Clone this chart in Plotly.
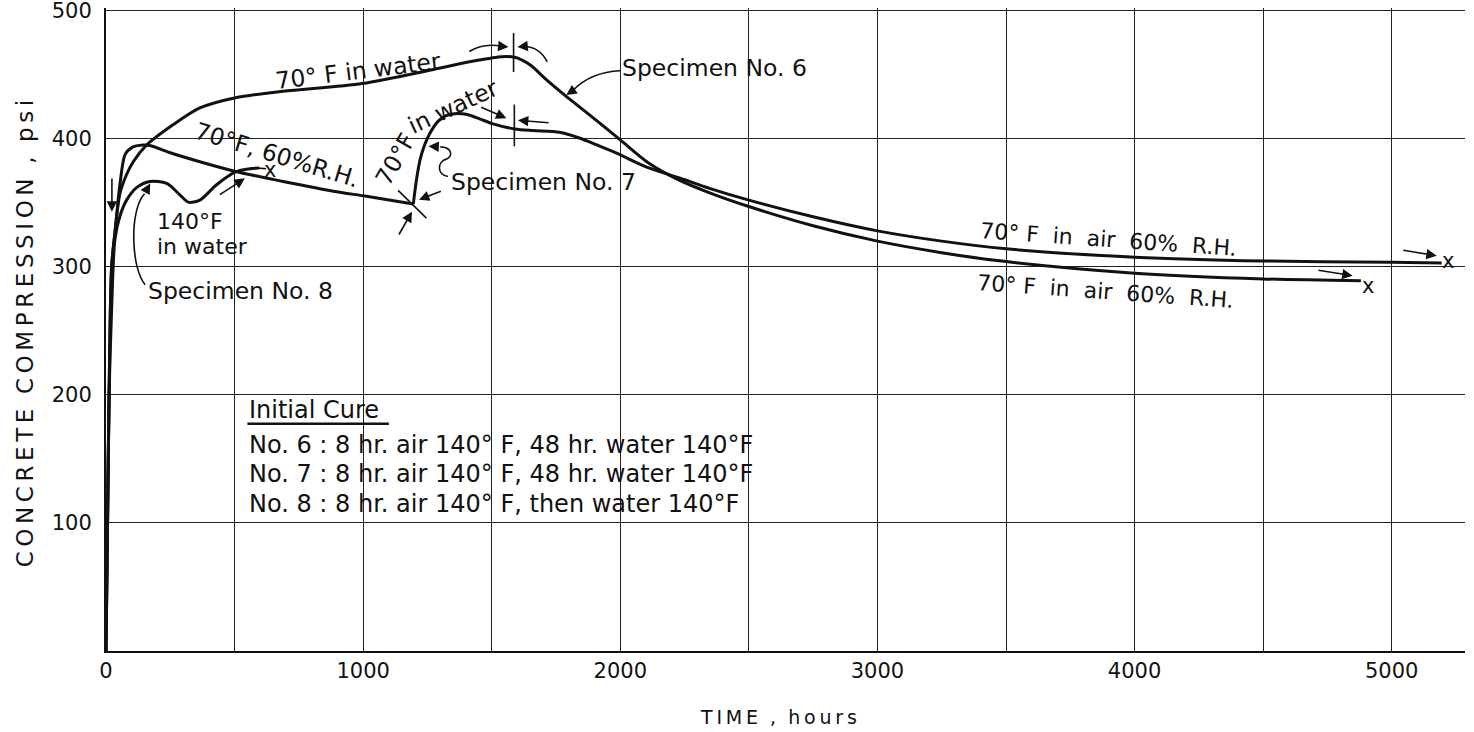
import plotly.graph_objects as go

# ---------------- data (time in hours, concrete compression in psi) ----------------
# Specimen No. 6 : 140F water, then 70F in water, then 70F in air 60% R.H.
t6 = [0, 6, 12, 22, 35, 54, 80, 106, 158, 262, 365, 504, 689, 997, 1273, 1440, 1540,
      1590, 1650, 1710, 1784, 1890, 2000, 2110, 2225, 2350, 2500, 2750, 3000, 3250,
      3500, 4000, 4500, 4880]
p6 = [0, 100, 200, 300, 327, 357, 372, 382, 395, 411, 424, 432, 437, 443, 454, 461, 464,
      463.5, 457.5, 446.5, 434, 417, 399, 381, 368, 357.5, 347, 332, 320, 311,
      304, 295, 290.5, 289]

# Specimen No. 7 : 140F water, then 70F 60% R.H.
t7a = [0, 6, 12, 22, 35, 54, 74, 100, 145, 171, 250, 365, 504, 689, 884, 1013, 1195]
p7a = [0, 100, 200, 301, 327, 364, 387.5, 393, 395, 394.6, 389, 382, 374.4, 366.6, 359, 355, 349]
# Specimen No. 7 : then 70F in water, then 70F in air 60% R.H.
t7b = [1195, 1209, 1222, 1239, 1259, 1291, 1323, 1356, 1401, 1453, 1505, 1589, 1660,
       1764, 1841, 1906, 1990, 2100, 2230, 2350, 2500, 2750, 3000, 3250, 3500, 4000,
       4500, 5000, 5194]
p7b = [349, 370, 384, 395, 404, 413.5, 418, 419.5, 419, 415.5, 411.5, 407.6, 406.3,
       405, 400.5, 395.3, 388.3, 378, 369.3, 361, 352, 339, 328, 320, 314, 307.5,
       304.5, 303.5, 303]

# Specimen No. 8 : 140F in water
t8 = [0, 6, 12, 22, 35, 55, 80, 120, 171, 236, 288, 320, 365, 430, 504, 560, 595]
p8 = [0, 100, 200, 268, 322, 340, 352, 362, 366.6, 365, 356, 350.4, 352, 364, 374, 376.5, 377]

x_ticks = [0, 500, 1000, 1500, 2000, 2500, 3000, 3500, 4000, 4500, 5000]
x_labels = ["0", "", "1000", "", "2000", "", "3000", "", "4000", "", "5000"]
y_ticks = [0, 100, 200, 300, 400, 500]
y_labels = ["", "100", "200", "300", "400", "500"]

legend_title = "Initial Cure"
legend_lines = [
    "No. 6 : 8 hr. air 140° F, 48 hr. water 140°F",
    "No. 7 : 8 hr. air 140° F, 48 hr. water 140°F",
    "No. 8 : 8 hr. air 140° F, then water 140°F",
]

FONT = "DejaVu Sans"
INK = "#111111"
TS = 23.5


def spaced(s):
    """wide drafting-style lettering: thin spaces between letters, wide word gaps"""
    return "  ".join("\u2009".join(w) for w in s.split(" "))


fig = go.Figure()
for tx, py in [(t6, p6), (t7a, p7a), (t7b, p7b), (t8, p8)]:
    fig.add_trace(go.Scatter(x=tx, y=py, mode="lines",
                             line=dict(color=INK, width=3, shape="spline", smoothing=0.8),
                             showlegend=False, hoverinfo="skip"))

# ---------------- text labels ----------------
labels = [
    # text, x, y, angle, xanchor, size
    ("70° F in water", 980, 452.6, -7, "center", TS),
    ("70°F, 60%R.H.", 664, 387.5, 17, "center", TS),
    ("140°F", 190, 335, 0, "left", 22),
    ("in water", 190, 315.5, 0, "left", 22),
    ("Specimen No. 8", 156, 281, 0, "left", TS),
    ("70°F", 1127, 384, -60, "center", TS),
    ("in water", 1348, 425, -25, "center", TS),
    ("Specimen No. 7", 1334, 366.4, 0, "left", TS),
    ("Specimen No. 6", 2000, 454.8, 0, "left", TS),
    ("70° F  in  air  60%  R.H.", 3900, 321.4, 4, "center", 22),
    ("70° F  in  air  60%  R.H.", 3885, 280.6, 4, "center", 22),
]
for txt, x, y, ang, xa, sz in labels:
    fig.add_annotation(x=x, y=y, xref="x", yref="y", text=txt, showarrow=False,
                       textangle=ang, xanchor=xa, yanchor="middle",
                       font=dict(family=FONT, size=sz, color=INK))

# end-of-test marks
for x, y in [(637, 375.7), (5220, 304.7), (4909, 285.2)]:
    fig.add_annotation(x=x, y=y, xref="x", yref="y", text="x", showarrow=False,
                       xanchor="center", yanchor="middle",
                       font=dict(family=FONT, size=21, color=INK))

# legend block
fig.add_annotation(x=550, y=188.3, xref="x", yref="y", text=legend_title, showarrow=False,
                   xanchor="left", yanchor="middle", font=dict(family=FONT, size=24, color=INK))
for txt, y in zip(legend_lines, [161, 138, 115]):
    fig.add_annotation(x=550, y=y, xref="x", yref="y", text=txt, showarrow=False,
                       xanchor="left", yanchor="middle", font=dict(family=FONT, size=24, color=INK))
fig.add_shape(type="line", xref="x", yref="y", x0=550, x1=1100, y0=177.5, y1=177.5,
              line=dict(color=INK, width=2.5))

# ---------------- arrows ----------------
arrows = [
    # tail x, tail y, head x, head y
    (23, 370, 23, 343),
    (437, 355.6, 540, 369),
    (150, 357, 172, 365),
    (1136, 324, 1190, 343),
    (1308, 359.4, 1217, 352.3),
    (1300, 393.6, 1254, 394),
    (1540, 472, 1565, 471.5),
    (1625, 472, 1600, 471.5),
    (1453, 425, 1557, 416),
    (1727, 412.3, 1602, 414.3),
    (1815, 437.5, 1790, 434),
    (5039, 313, 5175, 308.6),
    (4709, 297.4, 4848, 293),
]
for ax_, ay_, hx, hy in arrows:
    fig.add_annotation(x=hx, y=hy, ax=ax_, ay=ay_, xref="x", yref="y", axref="x", ayref="y",
                       text="", showarrow=True, arrowhead=2, arrowsize=1.3, arrowwidth=1.6,
                       arrowcolor=INK)

# leader curves and tick marks
paths = [
    "M 152,286 C 95,300 92,345 150,357",
    "M 1330,370.5 C 1285,372 1288,382 1323,384 C 1352,386 1345,393.5 1300,393.6",
    "M 1413,468 Q 1470,475 1540,472",
    "M 1716,460 Q 1685,472 1625,472",
    "M 2000,453 Q 1885,452 1815,437.5",
]
for p in paths:
    fig.add_shape(type="path", path=p, xref="x", yref="y", line=dict(color=INK, width=1.6))

segments = [
    (1136, 359.6, 1246, 338),
    (1585, 452, 1585, 482.5),
    (1588, 394, 1588, 426.6),
    (595, 377, 622, 376.5),
]
for x0, y0, x1, y1 in segments:
    fig.add_shape(type="line", xref="x", yref="y", x0=x0, y0=y0, x1=x1, y1=y1,
                  line=dict(color=INK, width=1.6))

# axis titles
fig.add_annotation(x=-0.0596, y=0.494, xref="paper", yref="paper",
                   text=spaced("CONCRETE COMPRESSION , psi"), textangle=-90, showarrow=False,
                   xanchor="center", yanchor="middle", font=dict(family=FONT, size=23, color=INK))
fig.add_annotation(x=0.495, y=-0.103, xref="paper", yref="paper",
                   text=spaced("TIME , hours"), showarrow=False,
                   xanchor="center", yanchor="middle", font=dict(family=FONT, size=19, color=INK))

fig.update_layout(
    width=1474, height=732,
    margin=dict(l=106, r=9, t=8, b=81, autoexpand=False),
    paper_bgcolor="white", plot_bgcolor="white",
    showlegend=False,
)
fig.update_xaxes(range=[0, 5285], tickmode="array", tickvals=x_ticks, ticktext=x_labels,
                 showgrid=True, gridcolor="#222222", gridwidth=1, automargin=False,
                 showline=True, linecolor=INK, linewidth=2, zeroline=False,
                 ticks="", ticklabeloverflow="allow",
                 tickfont=dict(family=FONT, size=21, color=INK))
fig.update_yaxes(range=[0, 502], tickmode="array", tickvals=y_ticks, ticktext=y_labels,
                 showgrid=True, gridcolor="#222222", gridwidth=1, automargin=False,
                 showline=True, linecolor=INK, linewidth=2, zeroline=False,
                 ticks="", ticklabelstandoff=8, ticklabeloverflow="allow",
                 tickfont=dict(family=FONT, size=21, color=INK))

fig.write_html("out.html", config={"displayModeBar": False},
               post_script="document.body.style.margin='0';")
